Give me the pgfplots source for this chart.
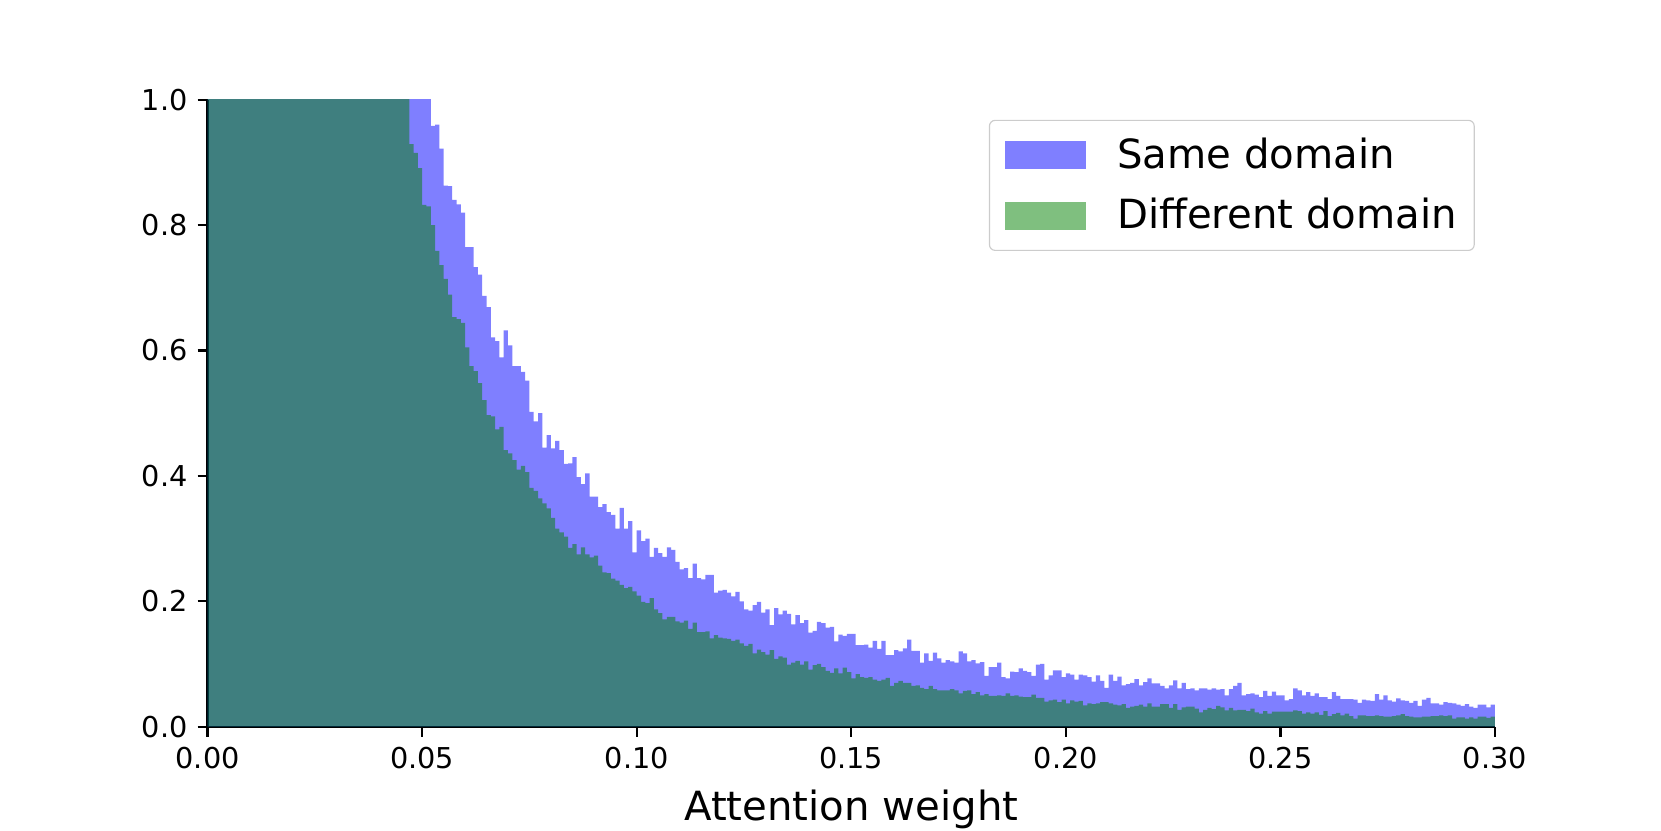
\documentclass[border=0pt]{standalone}
\usepackage{fontspec}
\setmainfont{DejaVu Sans}
\usepackage{pgfplots}
\usepackage{pgfplotstable}
\pgfplotsset{compat=1.18}
\definecolor{mplgreen}{RGB}{0,128,0}

% bin left edge, same-domain density, different-domain density (bin width 0.001)
\pgfplotstableread{
x b g
0.000 1.50 1.50
0.001 1.50 1.50
0.002 1.50 1.50
0.003 1.50 1.50
0.004 1.50 1.50
0.005 1.50 1.50
0.006 1.50 1.50
0.007 1.50 1.50
0.008 1.50 1.50
0.009 1.50 1.50
0.010 1.50 1.50
0.011 1.50 1.50
0.012 1.50 1.50
0.013 1.50 1.50
0.014 1.50 1.50
0.015 1.50 1.50
0.016 1.50 1.50
0.017 1.50 1.50
0.018 1.50 1.50
0.019 1.50 1.50
0.020 1.50 1.50
0.021 1.50 1.50
0.022 1.50 1.50
0.023 1.50 1.50
0.024 1.50 1.50
0.025 1.50 1.50
0.026 1.50 1.50
0.027 1.50 1.50
0.028 1.50 1.50
0.029 1.50 1.50
0.030 1.50 1.50
0.031 1.50 1.50
0.032 1.50 1.50
0.033 1.50 1.50
0.034 1.50 1.50
0.035 1.50 1.50
0.036 1.50 1.50
0.037 1.50 1.50
0.038 1.50 1.50
0.039 1.50 1.50
0.040 1.40 1.30
0.041 1.36 1.25
0.042 1.32 1.20
0.043 1.28 1.15
0.044 1.24 1.10
0.045 1.20 1.06
0.046 1.16 1.02
0.047 1.13 0.929
0.048 1.10 0.915
0.049 1.07 0.891
0.050 1.04 0.832
0.051 1.02 0.830
0.052 0.958 0.800
0.053 0.960 0.759
0.054 0.922 0.736
0.055 0.863 0.714
0.056 0.862 0.689
0.057 0.840 0.653
0.058 0.833 0.650
0.059 0.820 0.644
0.060 0.765 0.605
0.061 0.765 0.575
0.062 0.733 0.567
0.063 0.721 0.548
0.064 0.687 0.521
0.065 0.669 0.497
0.066 0.621 0.495
0.067 0.615 0.474
0.068 0.589 0.478
0.069 0.632 0.441
0.070 0.608 0.436
0.071 0.575 0.425
0.072 0.575 0.410
0.073 0.566 0.416
0.074 0.552 0.406
0.075 0.502 0.381
0.076 0.487 0.376
0.077 0.500 0.364
0.078 0.445 0.356
0.079 0.465 0.348
0.080 0.444 0.333
0.081 0.456 0.316
0.082 0.441 0.310
0.083 0.419 0.303
0.084 0.420 0.285
0.085 0.430 0.291
0.086 0.398 0.275
0.087 0.387 0.286
0.088 0.404 0.275
0.089 0.367 0.270
0.090 0.367 0.273
0.091 0.350 0.257
0.092 0.355 0.246
0.093 0.342 0.245
0.094 0.338 0.236
0.095 0.316 0.233
0.096 0.349 0.226
0.097 0.316 0.221
0.098 0.328 0.223
0.099 0.278 0.216
0.100 0.313 0.209
0.101 0.296 0.199
0.102 0.300 0.197
0.103 0.271 0.205
0.104 0.285 0.187
0.105 0.277 0.181
0.106 0.271 0.171
0.107 0.286 0.175
0.108 0.282 0.175
0.109 0.263 0.168
0.110 0.251 0.166
0.111 0.253 0.169
0.112 0.237 0.156
0.113 0.260 0.166
0.114 0.237 0.151
0.115 0.235 0.151
0.116 0.242 0.152
0.117 0.242 0.141
0.118 0.214 0.146
0.119 0.217 0.142
0.120 0.218 0.141
0.121 0.214 0.140
0.122 0.208 0.137
0.123 0.215 0.139
0.124 0.200 0.133
0.125 0.187 0.129
0.126 0.185 0.132
0.127 0.194 0.117
0.128 0.199 0.123
0.129 0.182 0.119
0.130 0.187 0.115
0.131 0.162 0.122
0.132 0.189 0.108
0.133 0.179 0.112
0.134 0.185 0.110
0.135 0.180 0.099
0.136 0.163 0.102
0.137 0.178 0.105
0.138 0.165 0.099
0.139 0.170 0.104
0.140 0.150 0.091
0.141 0.153 0.098
0.142 0.167 0.100
0.143 0.165 0.095
0.144 0.158 0.089
0.145 0.159 0.086
0.146 0.136 0.093
0.147 0.147 0.085
0.148 0.145 0.094
0.149 0.148 0.087
0.150 0.148 0.077
0.151 0.130 0.084
0.152 0.130 0.079
0.153 0.131 0.078
0.154 0.126 0.079
0.155 0.137 0.075
0.156 0.124 0.073
0.157 0.137 0.075
0.158 0.114 0.078
0.159 0.114 0.065
0.160 0.122 0.070
0.161 0.120 0.073
0.162 0.125 0.070
0.163 0.139 0.070
0.164 0.121 0.065
0.165 0.121 0.066
0.166 0.102 0.062
0.167 0.117 0.060
0.168 0.105 0.065
0.169 0.118 0.060
0.170 0.109 0.058
0.171 0.102 0.058
0.172 0.106 0.058
0.173 0.104 0.060
0.174 0.102 0.058
0.175 0.120 0.053
0.176 0.117 0.057
0.177 0.104 0.058
0.178 0.106 0.052
0.179 0.101 0.055
0.180 0.103 0.050
0.181 0.081 0.052
0.182 0.095 0.049
0.183 0.095 0.049
0.184 0.102 0.050
0.185 0.079 0.049
0.186 0.077 0.053
0.187 0.088 0.049
0.188 0.087 0.050
0.189 0.093 0.048
0.190 0.089 0.047
0.191 0.087 0.047
0.192 0.081 0.051
0.193 0.099 0.046
0.194 0.100 0.046
0.195 0.075 0.040
0.196 0.082 0.042
0.197 0.090 0.043
0.198 0.090 0.039
0.199 0.079 0.043
0.200 0.085 0.037
0.201 0.083 0.042
0.202 0.075 0.040
0.203 0.083 0.041
0.204 0.082 0.034
0.205 0.079 0.037
0.206 0.072 0.036
0.207 0.082 0.037
0.208 0.073 0.039
0.209 0.062 0.039
0.210 0.083 0.037
0.211 0.073 0.035
0.212 0.080 0.034
0.213 0.066 0.036
0.214 0.068 0.030
0.215 0.070 0.032
0.216 0.076 0.033
0.217 0.066 0.035
0.218 0.071 0.032
0.219 0.077 0.037
0.220 0.069 0.032
0.221 0.069 0.032
0.222 0.065 0.036
0.223 0.061 0.036
0.224 0.066 0.030
0.225 0.074 0.036
0.226 0.061 0.027
0.227 0.070 0.031
0.228 0.060 0.032
0.229 0.061 0.032
0.230 0.058 0.029
0.231 0.061 0.023
0.232 0.061 0.027
0.233 0.059 0.030
0.234 0.061 0.028
0.235 0.059 0.033
0.236 0.060 0.031
0.237 0.050 0.026
0.238 0.060 0.030
0.239 0.065 0.026
0.240 0.070 0.027
0.241 0.050 0.027
0.242 0.052 0.025
0.243 0.053 0.029
0.244 0.051 0.023
0.245 0.047 0.021
0.246 0.057 0.025
0.247 0.049 0.021
0.248 0.056 0.024
0.249 0.050 0.024
0.250 0.050 0.024
0.251 0.042 0.024
0.252 0.044 0.024
0.253 0.061 0.026
0.254 0.058 0.025
0.255 0.050 0.021
0.256 0.055 0.023
0.257 0.049 0.021
0.258 0.053 0.023
0.259 0.047 0.019
0.260 0.047 0.025
0.261 0.044 0.017
0.262 0.055 0.020
0.263 0.049 0.022
0.264 0.044 0.018
0.265 0.044 0.021
0.266 0.044 0.017
0.267 0.043 0.013
0.268 0.038 0.018
0.269 0.043 0.018
0.270 0.042 0.017
0.271 0.041 0.017
0.272 0.052 0.018
0.273 0.043 0.017
0.274 0.050 0.016
0.275 0.042 0.016
0.276 0.040 0.017
0.277 0.045 0.018
0.278 0.042 0.020
0.279 0.041 0.017
0.280 0.038 0.016
0.281 0.041 0.015
0.282 0.033 0.015
0.283 0.043 0.016
0.284 0.046 0.016
0.285 0.037 0.017
0.286 0.037 0.017
0.287 0.035 0.018
0.288 0.039 0.017
0.289 0.038 0.018
0.290 0.037 0.013
0.291 0.035 0.015
0.292 0.033 0.015
0.293 0.036 0.013
0.294 0.032 0.015
0.295 0.030 0.013
0.296 0.035 0.016
0.297 0.035 0.016
0.298 0.031 0.014
0.299 0.035 0.016
0.300 0.035 0.016
}\hist

\begin{document}
\begin{tikzpicture}
\useasboundingbox (-1in,-0.5in) rectangle (7in,3.5in);
\begin{axis}[
  at={(0,0)}, anchor=origin,
  scale only axis,
  width=6.2in, height=3.02in,
  xmin=0, xmax=0.3, ymin=0, ymax=1,
  axis x line*=bottom, axis y line*=left,
  xtick={0,0.05,0.1,0.15,0.2,0.25,0.3},
  ytick={0,0.2,0.4,0.6,0.8,1},
  /pgf/number format/assume math mode=true,
  xticklabel style={/pgf/number format/fixed,/pgf/number format/fixed zerofill,/pgf/number format/precision=2},
  yticklabel style={/pgf/number format/fixed,/pgf/number format/fixed zerofill,/pgf/number format/precision=1},
  tick label style={font=\fontsize{10}{12}\selectfont},
  tick align=outside,
  major tick length=3.5pt,
  tick style={black, line width=0.8pt},
  axis line style={black, line width=0.8pt},
  xlabel={Attention weight},
  xlabel style={font=\fontsize{14}{17}\selectfont, yshift=-0.5pt},
  legend style={at={(1,1)}, anchor=north east, xshift=-7pt, yshift=-7pt,
    draw=black!20, rounded corners=2pt, fill=white,
    font=\fontsize{14}{17}\selectfont,
    inner xsep=5.5pt, inner ysep=4pt, row sep=5pt,
    nodes={inner xsep=0.5pt, inner ysep=2pt}},
  legend cell align=left,
  legend image code/.code={\fill[#1, sharp corners] (0pt,-4.9pt) rectangle (28pt,4.9pt); \path[fill=none, draw=none] (0pt,0pt) -- (38.5pt,0pt);},
]
\addplot[ybar interval, fill=blue, fill opacity=0.5, draw=none] table[x=x, y=b] {\hist};
\addlegendentry{Same domain}
\addplot[ybar interval, fill=mplgreen, fill opacity=0.5, draw=none] table[x=x, y=g] {\hist};
\addlegendentry{Different domain}
\end{axis}
\end{tikzpicture}
\end{document}
